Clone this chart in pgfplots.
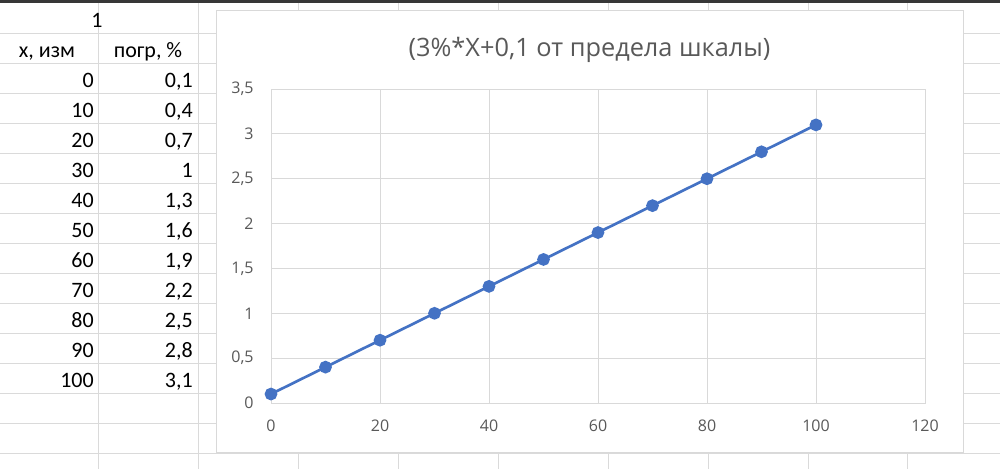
\documentclass[border=0pt]{standalone}
\usepackage{pgfplots}
\pgfplotsset{compat=1.18}
\usepackage{fontspec}
\setmainfont{Carlito}
\newfontfamily\chartfont{Open Sans}
\definecolor{cellgrid}{RGB}{218,218,218}
\definecolor{chartgrid}{RGB}{217,217,217}
\definecolor{txtgray}{RGB}{89,89,89}
\definecolor{xlblue}{RGB}{68,114,196}
\definecolor{hdr}{RGB}{55,55,55}
\begin{document}
\begin{tikzpicture}[x=0.75pt,y=-0.75pt]
\path[use as bounding box] (0,0) rectangle (1000,469);
\fill[white] (0,0) rectangle (1000,469);
% spreadsheet grid
\foreach \yy in {33,63,...,453} \draw[cellgrid,line width=0.75pt] (0,\yy) -- (1000,\yy);
\foreach \xx in {98,198,298,398,498,608,708,808,907} \draw[cellgrid,line width=0.75pt] (\xx,0) -- (\xx,469);
\fill[hdr] (0,0) rectangle (1000,3);
% cell text
\begin{scope}[every node/.style={inner sep=0pt,font=\fontsize{16.5}{20}\selectfont}]
\node[anchor=base] at (97,27) {1};
\node[anchor=base] at (47,57) {x, изм};
\node[anchor=base] at (148,57) {погр, \%};
\foreach \a/\b [count=\i from 0] in {0/{0,1},10/{0,4},20/{0,7},30/{1},40/{1,3},50/{1,6},60/{1,9},70/{2,2},80/{2,5},90/{2,8},100/{3,1}}{
  \node[anchor=base east] at (94,87+30*\i) {\a};
  \node[anchor=base east] at (193,87+30*\i) {\b};
}
\end{scope}
% chart area
\draw[chartgrid,fill=white,line width=0.75pt] (216,10) rectangle (963,452);
\node[anchor=base,inner sep=0pt,text=txtgray,font=\chartfont\fontsize{19}{23}\selectfont] at (589.5,56) {(3\%*X+0,1 от предела шкалы)};
\coordinate (O) at (271,403);
\begin{axis}[
  at={(O)}, anchor=south west,
  scale only axis, width=490.5pt, height=235.5pt,
  xmin=0, xmax=120, ymin=0, ymax=3.5,
  xtick={0,20,...,120}, ytick={0,0.5,...,3.5},
  grid=major, major grid style={chartgrid,line width=0.75pt},
  axis line style={chartgrid,line width=0.75pt},
  major tick length=0pt,
  tick label style={text=txtgray,font=\chartfont\fontsize{12}{14}\selectfont},
  /pgf/number format/use comma,
  /pgf/number format/assume math mode=true,
  yticklabel style={xshift=-9.5pt},
  xticklabel style={yshift=-9pt},
  clip=false,
]
\addplot[xlblue,line width=2pt,mark=*,mark size=3.75pt,mark options={fill=xlblue,draw=xlblue}] coordinates {
(0,0.1) (10,0.4) (20,0.7) (30,1) (40,1.3) (50,1.6) (60,1.9) (70,2.2) (80,2.5) (90,2.8) (100,3.1)
};
\end{axis}
\end{tikzpicture}
\end{document}
